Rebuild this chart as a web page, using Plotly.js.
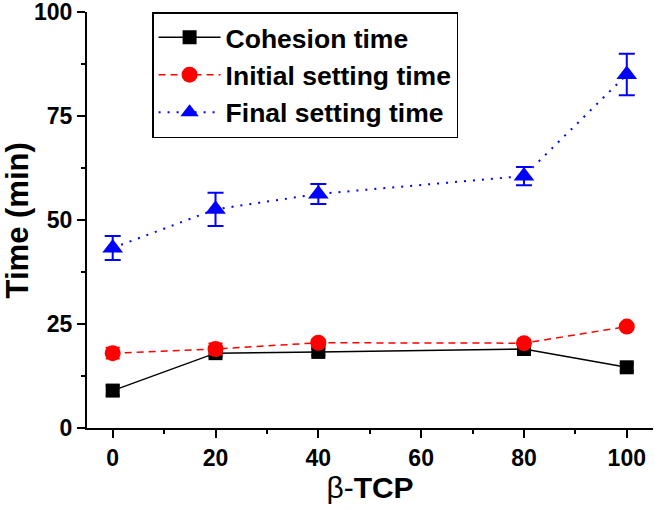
<!DOCTYPE html>
<html>
<head>
<meta charset="utf-8">
<script src="https://cdn.plot.ly/plotly-3.0.1.min.js"></script>
<style>html,body{margin:0;padding:0;background:#fff;}#chart{width:654px;height:510px;}</style>
</head>
<body>
<div id="chart"></div>
<script>
const tcp = [0, 20, 40, 80, 100];
const cohesionTime = [9.0, 18.0, 18.3, 19.0, 14.6];
const cohesionErr = [1.2, 0.8, 0.8, 0.8, 1.0];
const initialTime = [18.0, 19.0, 20.5, 20.4, 24.4];
const initialErr = [1.3, 1.3, 0.8, 0.8, 0.6];
const finalTime = [43.3, 52.6, 56.3, 60.6, 85.0];
const finalErr = [2.9, 4.0, 2.4, 2.2, 5.0];
const seriesNames = ['Cohesion time', 'Initial setting time', 'Final setting time'];
const yTitle = 'Time (min)';

const FONT = 'Liberation Sans, Arial, sans-serif';

const traces = [
  {
    x: tcp, y: cohesionTime, name: seriesNames[0], type: 'scatter', mode: 'lines+markers',
    legendgroup: 'a',
    line: {color: '#000000', width: 1.5},
    marker: {symbol: 'square', size: 14, color: '#000000'},
    error_y: {type: 'data', array: cohesionErr, visible: true, color: '#000000', thickness: 2, width: 7}
  },
  {
    x: tcp, y: initialTime, name: seriesNames[1], type: 'scatter', mode: 'lines+markers',
    legendgroup: 'b',
    line: {color: '#ff0000', width: 1.5, dash: '7px,5px'},
    marker: {symbol: 'circle', size: 16, color: '#ff0000'},
    error_y: {type: 'data', array: initialErr, visible: true, color: '#ff0000', thickness: 2, width: 7}
  },
  {
    x: tcp, y: finalTime, name: seriesNames[2], type: 'scatter', mode: 'lines+markers',
    legendgroup: 'c',
    line: {color: '#0000ff', width: 2, dash: '2px,7px'},
    marker: {symbol: 'triangle-up', size: 18, color: '#0000ff'},
    error_y: {type: 'data', array: finalErr, visible: true, color: '#0000ff', thickness: 2, width: 8}
  }
];

const layout = {
  width: 654, height: 510,
  margin: {l: 87, r: 1, t: 12, b: 82},
  paper_bgcolor: '#ffffff', plot_bgcolor: '#ffffff',
  font: {family: FONT, color: '#000000'},
  showlegend: true,
  legend: {
    x: 0.115, y: 1.0, xanchor: 'left', yanchor: 'top',
    bgcolor: '#ffffff', bordercolor: '#000000', borderwidth: 1.5,
    font: {family: FONT, size: 26.5, color: '#000000', weight: 'bold'},
    itemwidth: 62, tracegroupgap: 0, traceorder: 'grouped'
  },
  xaxis: {
    range: [-5, 105.1],
    tickvals: [0, 20, 40, 60, 80, 100],
    ticks: 'outside', ticklen: 8, tickwidth: 2, tickcolor: '#000000',
    minor: {dtick: 10, ticks: 'outside', ticklen: 4, tickwidth: 2, tickcolor: '#000000'},
    showline: true, linecolor: '#000000', linewidth: 2,
    showgrid: false, zeroline: false, ticklabeloverflow: 'allow',
    tickfont: {family: FONT, size: 23, color: '#000000', weight: 'bold'},
    title: {text: 'β-<b>TCP</b>', font: {family: FONT, size: 30, color: '#000000'}, standoff: 4}
  },
  yaxis: {
    range: [0, 100.05],
    tickvals: [0, 25, 50, 75, 100],
    ticks: 'outside', ticklen: 8, tickwidth: 2, tickcolor: '#000000',
    minor: {tickvals: [12.5, 37.5, 62.5, 87.5], ticks: 'outside', ticklen: 4, tickwidth: 2, tickcolor: '#000000'},
    showline: true, linecolor: '#000000', linewidth: 2,
    showgrid: false, zeroline: false, ticklabeloverflow: 'allow',
    tickfont: {family: FONT, size: 23, color: '#000000', weight: 'bold'}
  },
  annotations: [{
    text: '<b>' + yTitle + '</b>', textangle: -90, showarrow: false,
    xref: 'paper', yref: 'paper', x: -0.123, y: 0.5, xanchor: 'center', yanchor: 'middle',
    font: {family: FONT, size: 31, color: '#000000'}
  }]
};

Plotly.newPlot('chart', traces, layout, {displayModeBar: false, staticPlot: true});
</script>
</body>
</html>
